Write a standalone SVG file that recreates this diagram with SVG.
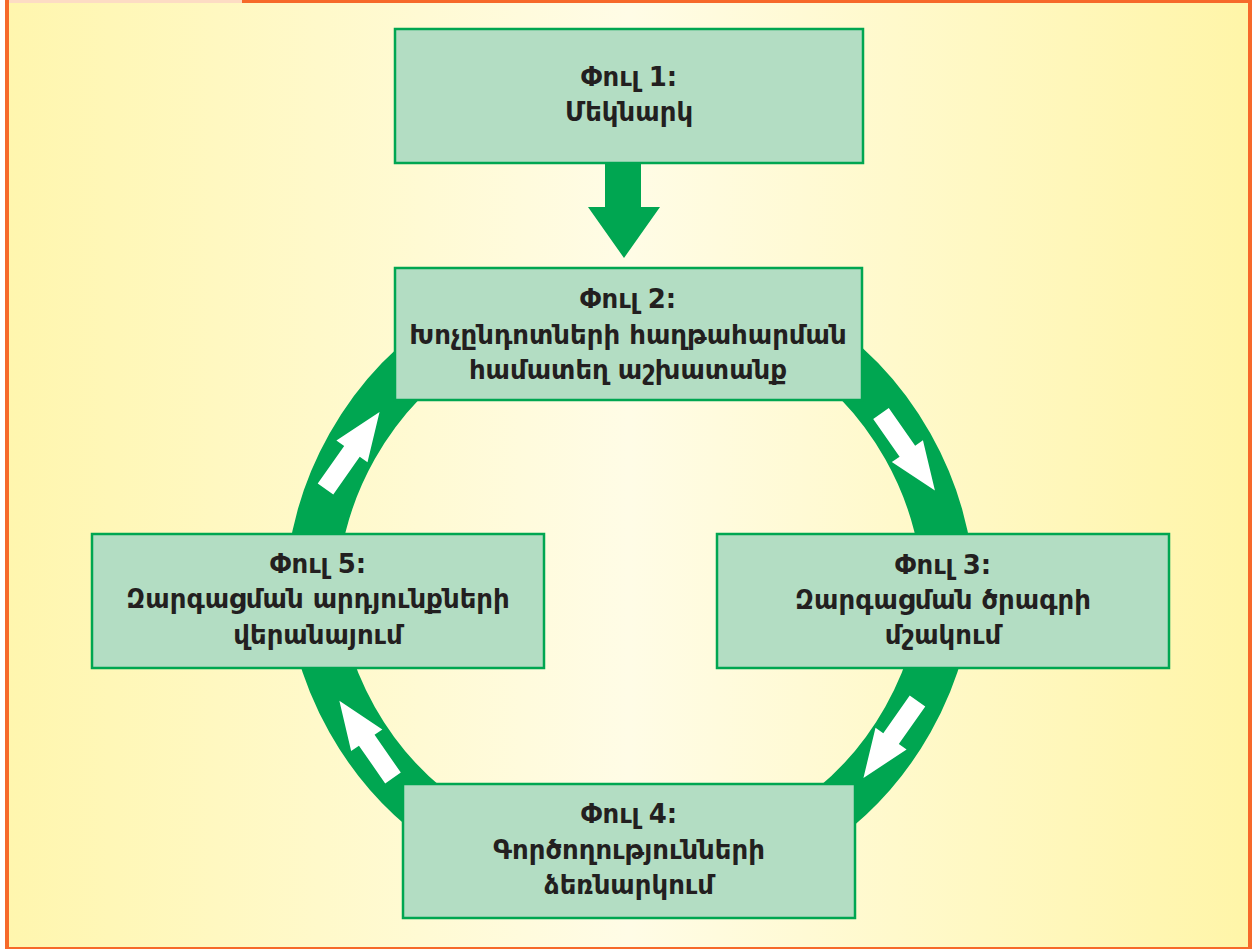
<svg xmlns="http://www.w3.org/2000/svg" width="1252" height="949" viewBox="0 0 1252 949">
<defs>
<linearGradient id="bg" x1="0" y1="0" x2="1" y2="0">
<stop offset="0" stop-color="#FFF6AE"/>
<stop offset="0.5" stop-color="#FFFCE6"/>
<stop offset="1" stop-color="#FFF5A8"/>
</linearGradient>
<polygon id="warrow" points="0,-9.5 46,-9.5 46,-19 94,0 46,19 46,9.5 0,9.5" fill="#FFFFFF"/>
</defs>
<style>
.box{fill:#B3DDC3;stroke:#00A651;stroke-width:2.5}
.ring{fill:none;stroke:#00A651;stroke-width:52}
.t{font-family:"DejaVu Sans","Noto Sans",sans-serif;font-weight:bold;font-size:26px;fill:#231F20;text-anchor:middle}
</style>
<rect x="0" y="0" width="1252" height="949" fill="#FFFFFF"/>
<rect x="5" y="0" width="1247" height="949" fill="#F6692A"/>
<rect x="9" y="0" width="233" height="3" fill="#FDDCC4"/>
<rect x="9" y="3" width="1239" height="944" fill="url(#bg)"/>
<g id="connectors">
<path class="ring" d="M311,603 A319,319 0 0 1 465,330"/>
<path class="ring" d="M795,330 A319,319 0 0 1 949,603"/>
<path class="ring" d="M949,563 A319,319 0 0 1 795,836"/>
<path class="ring" d="M465,836 A319,319 0 0 1 311,563"/>
<polygon points="605,162 641,162 641,207 660,207 624,258 588,207 605,207" fill="#00A651"/>
<use href="#warrow" transform="translate(325.5,489) rotate(-54.9)"/>
<use href="#warrow" transform="translate(881,413.5) rotate(55)"/>
<use href="#warrow" transform="translate(917.5,701) rotate(125.1)"/>
<use href="#warrow" transform="translate(393,778) rotate(-124.8)"/>
</g>
<g id="phase1">
<rect class="box" x="395" y="29" width="468" height="134"/>
<text class="t" x="629" y="86">Փուլ 1:</text>
<text class="t" x="629" y="121">Մեկնարկ</text>
</g>
<g id="phase2">
<rect class="box" x="395" y="268" width="467" height="132"/>
<text class="t" x="628" y="308">Փուլ 2:</text>
<text class="t" x="628" y="344">Խոչընդոտների հաղթահարման</text>
<text class="t" x="628" y="379">համատեղ աշխատանք</text>
</g>
<g id="phase3">
<rect class="box" x="717" y="534" width="452" height="134"/>
<text class="t" x="943" y="574">Փուլ 3:</text>
<text class="t" x="943" y="609">Զարգացման ծրագրի</text>
<text class="t" x="943" y="644">մշակում</text>
</g>
<g id="phase4">
<rect class="box" x="403" y="784" width="452" height="134"/>
<text class="t" x="629" y="823">Փուլ 4:</text>
<text class="t" x="629" y="859">Գործողությունների</text>
<text class="t" x="629" y="894">ձեռնարկում</text>
</g>
<g id="phase5">
<rect class="box" x="92" y="534" width="452" height="134"/>
<text class="t" x="318" y="573">Փուլ 5:</text>
<text class="t" x="318" y="608">Զարգացման արդյունքների</text>
<text class="t" x="318" y="644">վերանայում</text>
</g>
</svg>
